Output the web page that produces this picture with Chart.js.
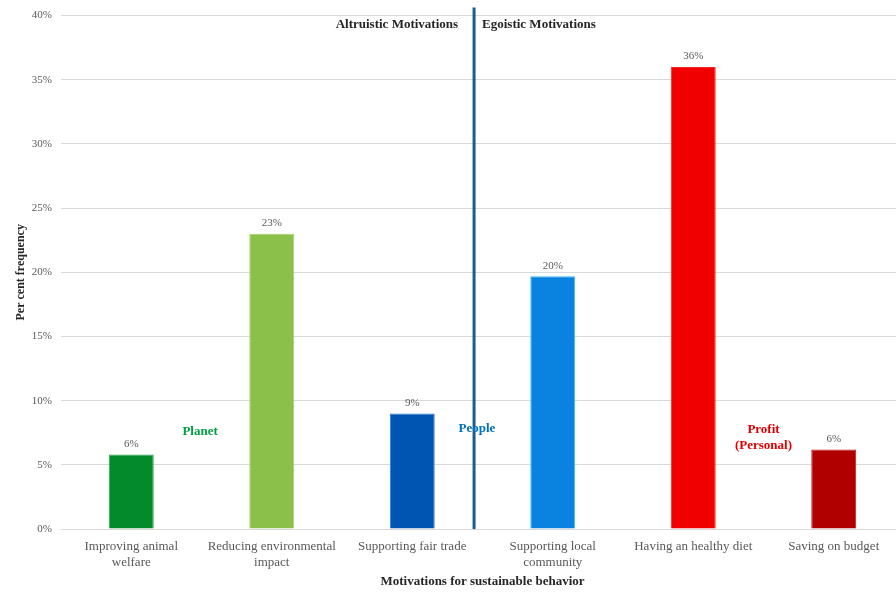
<!DOCTYPE html>
<html>
<head>
<meta charset="utf-8">
<script src="https://cdn.jsdelivr.net/npm/chart.js@4/dist/chart.umd.min.js"></script>
<style>
  html, body { margin: 0; padding: 0; background: #fff; overflow: hidden; }
  #wrap { width: 910px; height: 596px; position: relative; }
</style>
</head>
<body>
<div id="wrap"><canvas id="myChart"></canvas></div>
<script>
const categories = [
  ['Improving animal', 'welfare'],
  ['Reducing environmental', 'impact'],
  'Supporting fair trade',
  ['Supporting local', 'community'],
  'Having an healthy diet',
  'Saving on budget'
];
const values = [5.8, 23, 9, 19.7, 36, 6.2];
const valueLabels = ['6%', '23%', '9%', '20%', '36%', '6%'];
const barColors = ['#038a2b', '#8bc14b', '#0054b2', '#0a83e0', '#f00000', '#b00000'];
const barBorders = ['#2aa84a', '#9fd060', '#2a78d0', '#3cb8f2', '#ff2020', '#c81818'];
const yTicks = [0, 5, 10, 15, 20, 25, 30, 35, 40];

const serif = '"Liberation Serif", "DejaVu Serif", serif';

// divider + group notes, placed in data coordinates
const extras = {
  id: 'extras',
  afterDatasetsDraw(chart) {
    const ctx = chart.ctx;
    const x = chart.scales.x, y = chart.scales.y;
    ctx.save();

    // value labels over bars
    ctx.font = '11px ' + serif;
    ctx.fillStyle = '#595959';
    ctx.textAlign = 'center';
    ctx.textBaseline = 'bottom';
    chart.getDatasetMeta(0).data.forEach((bar, i) => {
      ctx.fillText(valueLabels[i], bar.x, bar.y - 5);
    });

    // vertical divider
    const dx = x.getPixelForValue(2.44);
    ctx.strokeStyle = '#1b5e8e';
    ctx.lineWidth = 3;
    ctx.beginPath();
    ctx.moveTo(dx, chart.chartArea.top - 8);
    ctx.lineTo(dx, chart.chartArea.bottom);
    ctx.stroke();

    ctx.font = 'bold 13px ' + serif;
    ctx.fillStyle = '#262626';
    ctx.textBaseline = 'middle';
    ctx.textAlign = 'right';
    ctx.fillText('Altruistic Motivations', dx - 16, 25);
    ctx.textAlign = 'left';
    ctx.fillText('Egoistic Motivations', dx + 8, 25);

    ctx.textAlign = 'center';
    ctx.font = 'bold 13px ' + serif;
    ctx.fillStyle = '#00a040';
    ctx.fillText('Planet', x.getPixelForValue(0.49), y.getPixelForValue(7.6));
    ctx.fillStyle = '#0070c0';
    ctx.fillText('People', x.getPixelForValue(2.46), y.getPixelForValue(7.8));
    ctx.fillStyle = '#e00000';
    ctx.fillText('Profit', x.getPixelForValue(4.5), y.getPixelForValue(7.75));
    ctx.fillText('(Personal)', x.getPixelForValue(4.5), y.getPixelForValue(6.5));
    ctx.restore();
  }
};

new Chart(document.getElementById('myChart'), {
  type: 'bar',
  data: {
    labels: categories,
    datasets: [{
      data: values,
      backgroundColor: barColors,
      borderColor: barBorders,
      borderWidth: 1,
      barPercentage: 0.32,
      categoryPercentage: 1
    }]
  },
  options: {
    responsive: true,
    maintainAspectRatio: false,
    animation: false,
    layout: { padding: { left: 14, right: 6, top: 10, bottom: 7 } },
    plugins: { legend: { display: false }, tooltip: { enabled: false } },
    scales: {
      x: {
        grid: { display: false },
        border: { display: false },
        ticks: {
          color: '#595959',
          font: { family: serif, size: 13 },
          maxRotation: 0,
          autoSkip: false,
          padding: 2
        },
        title: {
          display: true,
          text: 'Motivations for sustainable behavior',
          color: '#262626',
          font: { family: serif, size: 13, weight: 'bold' },
          padding: { top: 0, bottom: 0 }
        },
        afterFit(scale) { scale.height = 60; }
      },
      y: {
        min: 0,
        max: 40,
        afterBuildTicks(scale) { scale.ticks = yTicks.map(v => ({ value: v })); },
        grid: { color: '#d9d9d9', lineWidth: 1, drawTicks: false },
        border: { display: false },
        ticks: {
          color: '#595959',
          font: { family: serif, size: 11 },
          padding: 9,
          callback: v => v + '%'
        },
        title: {
          display: true,
          text: 'Per cent frequency',
          color: '#262626',
          font: { family: serif, size: 12, weight: 'bold' },
          padding: { top: 0, bottom: 4 }
        },
        afterFit(scale) { scale.width = 47; }
      }
    }
  },
  plugins: [extras]
});
</script>
</body>
</html>
